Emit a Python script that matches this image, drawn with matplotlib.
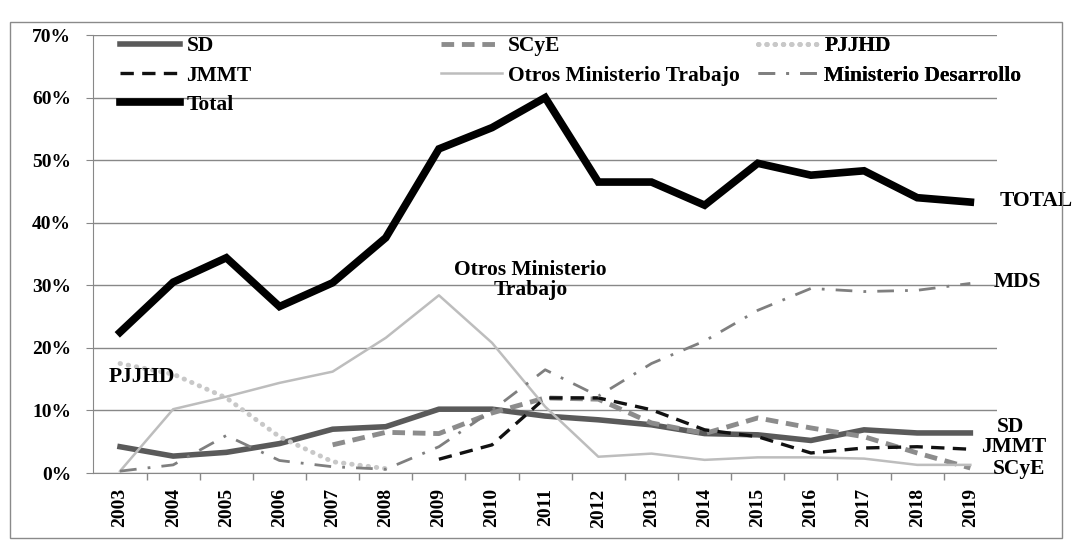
import matplotlib
matplotlib.use("Agg")
import matplotlib.pyplot as plt
from matplotlib.lines import Line2D
from matplotlib.patches import Rectangle
from matplotlib.ticker import FixedLocator, FuncFormatter
import numpy as np

nan = np.nan

# values in percent
years = ["2003", "2004", "2005", "2006", "2007", "2008", "2009", "2010", "2011",
         "2012", "2013", "2014", "2015", "2016", "2017", "2018", "2019"]
total = [22.5, 30.5, 34.4, 26.6, 30.4, 37.6, 51.8, 55.2, 60.0,
         46.5, 46.5, 42.8, 49.5, 47.6, 48.3, 44.0, 43.3]
sd = [4.2, 2.7, 3.3, 4.7, 7.0, 7.4, 10.2, 10.2, 9.1,
      8.5, 7.7, 6.3, 6.1, 5.2, 6.9, 6.4, 6.4]
scye = [nan, nan, nan, nan, 4.5, 6.5, 6.3, 9.6, 12.0,
        11.8, 8.0, 6.3, 8.8, 7.2, 5.8, 3.2, 0.8]
pjjhd = [17.5, 15.8, 12.0, 5.8, 1.8, 0.7, nan, nan, nan,
         nan, nan, nan, nan, nan, nan, nan, nan]
jmmt = [nan, nan, nan, nan, nan, nan, 2.2, 4.5, 12.0,
        12.0, 10.1, 6.9, 5.8, 3.2, 4.0, 4.2, 3.8]
otros = [0.3, 10.2, 12.2, 14.4, 16.2, 21.6, 28.4, 20.8, 10.6,
         2.6, 3.1, 2.1, 2.5, 2.5, 2.3, 1.3, 1.3]
mdes = [0.3, 1.3, 6.0, 2.0, 1.0, 0.6, 4.2, 10.0, 16.5,
        12.3, 17.5, 21.1, 26.0, 29.5, 29.0, 29.2, 30.3]

plt.rcParams["font.family"] = ["Liberation Serif", "DejaVu Serif"]
plt.rcParams["font.weight"] = "bold"

fig = plt.figure(figsize=(10.73, 5.42), dpi=100)
ax = fig.add_axes([0.0871, 0.1273, 0.8420, 0.8081])

x = np.arange(len(years))

styles = {
    "SD": dict(color="#5a5a5a", lw=4.0, ls="-"),
    "SCyE": dict(color="#8c8c8c", lw=3.5, ls=(0, (2.6, 1.6))),
    "PJJHD": dict(color="#c8c8c8", lw=3.5, ls=(0, (0.1, 1.6)), dash_capstyle="round"),
    "JMMT": dict(color="#111111", lw=2.4, ls=(0, (4, 2.5))),
    "Otros Ministerio Trabajo": dict(color="#bdbdbd", lw=1.8, ls="-"),
    "Ministerio Desarrollo": dict(color="#7f7f7f", lw=2.0, ls=(0, (6, 4, 1, 4))),
    "Total": dict(color="#000000", lw=5.5, ls="-", solid_joinstyle="miter"),
}
series = {
    "SD": sd, "SCyE": scye, "PJJHD": pjjhd, "JMMT": jmmt,
    "Otros Ministerio Trabajo": otros, "Ministerio Desarrollo": mdes, "Total": total,
}
for name, vals in series.items():
    ax.plot(x, vals, **styles[name])

ax.set_xlim(-0.5, len(years) - 0.5)
ax.set_ylim(0, 70)
ax.set_yticks(np.arange(0, 71, 10))
ax.yaxis.set_major_formatter(FuncFormatter(lambda v, p: f"{v:.0f}%"))
ax.set_xticks(x)
ax.set_xticklabels(years, rotation=90)
ax.xaxis.set_minor_locator(FixedLocator(np.arange(0.5, len(years) - 0.5, 1)))
ax.tick_params(axis="x", which="major", length=0, labelsize=14, pad=11)
ax.tick_params(axis="x", which="minor", length=5, color="#888888", width=1)
ax.tick_params(axis="y", length=5, color="#888888", labelsize=14, pad=11)
ax.grid(axis="y", color="#888888", lw=1.0)
ax.set_axisbelow(True)
for s in ["top", "right"]:
    ax.spines[s].set_visible(False)
for s in ["left", "bottom"]:
    ax.spines[s].set_color("#888888")

# legend, laid out as three separate columns
leg_cols = [(["SD", "JMMT", "Total"], 0.029),
            (["SCyE", "Otros Ministerio Trabajo"], 0.385),
            (["PJJHD", "Ministerio Desarrollo"], 0.735)]
for names, xpos in leg_cols:
    handles = [Line2D([], [], **styles[n]) for n in names]
    leg = ax.legend(handles, names, loc="upper left", bbox_to_anchor=(xpos, 0.997),
                    frameon=False, fontsize=15.5, handlelength=2.8, handletextpad=0.3,
                    borderpad=0, borderaxespad=0, labelspacing=0.42)
    ax.add_artist(leg)

# direct labels
lab = dict(fontsize=15.5, fontweight="bold", va="center")
ax.text(16.56, 43.5, "TOTAL", ha="left", **lab)
ax.text(16.43, 30.6, "MDS", ha="left", **lab)
ax.text(16.5, 7.4, "SD", ha="left", **lab)
ax.text(16.2, 4.1, "JMMT", ha="left", **lab)
ax.text(16.43, 0.6, "SCyE", ha="left", **lab)
ax.text(0.41, 15.3, "PJJHD", ha="center", **lab)
ax.text(7.72, 30.8, "Otros Ministerio\nTrabajo", ha="center", linespacing=1.0, **lab)

# outer frame around the chart
fig.patches.append(Rectangle((10 / 1073, 4 / 542), 1052 / 1073, 516 / 542,
                             transform=fig.transFigure, fill=False,
                             edgecolor="#8a8a8a", lw=1.0))

fig.savefig("out.png", dpi=100)
